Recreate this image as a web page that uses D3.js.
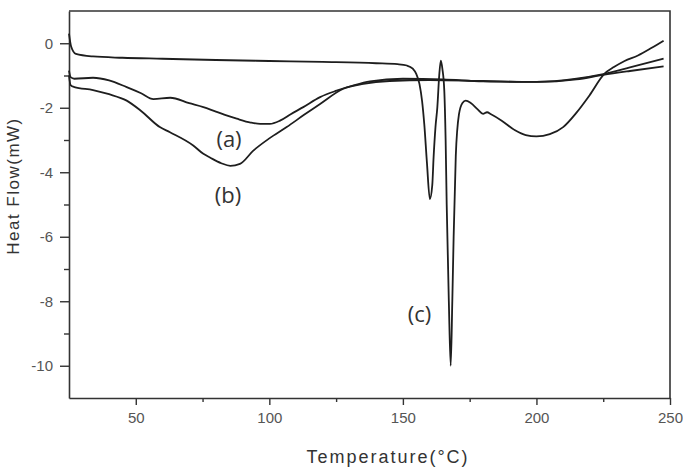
<!doctype html>
<html lang="en">
<head>
<meta charset="utf-8">
<title>DSC curves</title>
<script src="https://cdn.jsdelivr.net/npm/d3@7"></script>
<style>
	body { margin: 0; background: #fff; }
	svg { display: block; }
</style>
</head>
<body>
<svg id="chart" width="683" height="468"></svg>
<script>
// ---- data (temperature in C, heat flow in mW) ----
var tempA = [25, 25.6, 27, 34, 40, 46.6, 52, 56.6, 62.9, 70, 75.3, 80, 87.8, 93, 96.6, 100.2, 104, 108, 112.7, 119, 125.2, 131.3, 137.7, 150, 165, 180, 200, 215, 225, 235, 247.6];
var flowA = [-0.85, -1.05, -1.1, -1.07, -1.15, -1.36, -1.55, -1.73, -1.69, -1.86, -1.98, -2.12, -2.34, -2.46, -2.5, -2.5, -2.4, -2.2, -1.98, -1.67, -1.47, -1.31, -1.18, -1.1, -1.12, -1.18, -1.2, -1.12, -0.98, -0.86, -0.72];

var tempB = [25, 25.6, 27, 34, 40, 46.6, 52, 59, 62.8, 71.5, 75.3, 77.9, 82, 85.4, 89, 94, 100, 106.5, 113, 119, 127.7, 135.2, 145, 160, 180, 200, 215, 225, 235, 247.6];
var flowB = [-1.0, -1.3, -1.36, -1.45, -1.58, -1.78, -2.1, -2.6, -2.76, -3.17, -3.43, -3.55, -3.72, -3.8, -3.74, -3.33, -2.95, -2.6, -2.22, -1.88, -1.41, -1.26, -1.17, -1.14, -1.17, -1.2, -1.1, -0.96, -0.75, -0.48];

var tempC = [25, 25.8, 27.6, 34, 45, 60, 80, 100, 120, 140, 148, 151.5, 153.7, 155, 156.2, 157.2, 158, 159, 160.1, 161, 161.5, 162.2, 162.9, 163.6, 164.2, 164.8, 165.5, 166, 166.4, 167.2, 167.9, 168.5, 169, 169.8, 171, 172.3, 173.5, 175.4, 178, 180, 181.5, 183, 187, 192, 196, 200, 205, 210, 215, 220, 225.4, 229, 233, 238, 243, 247.6];
var flowC = [0.3, -0.1, -0.33, -0.41, -0.45, -0.48, -0.52, -0.55, -0.58, -0.62, -0.65, -0.69, -0.79, -0.95, -1.26, -1.8, -2.5, -3.7, -4.83, -4.4, -3.53, -2.6, -1.98, -1.0, -0.54, -0.8, -1.47, -3.0, -5.0, -8.0, -10.0, -8.0, -6.0, -3.5, -2.2, -1.85, -1.78, -1.85, -2.05, -2.19, -2.14, -2.2, -2.4, -2.7, -2.85, -2.89, -2.82, -2.6, -2.15, -1.6, -0.95, -0.74, -0.55, -0.38, -0.15, 0.08];

var xTicks = [50, 100, 150, 200, 250];
var xMinor = [75, 125, 175, 225];
var yTicks = [0, -2, -4, -6, -8, -10];
var yMinor = [-1, -3, -5, -7, -9];

var curveLabels = ["(a)", "(b)", "(c)"];
var labelTemp = [84.9, 84.5, 156.2];
var labelFlow = [-3.23, -4.94, -8.63];

// ---- layout ----
var svg = d3.select("#chart");
var plotLeft = 69, plotRight = 670, plotTop = 11, plotBottom = 398;

var x = d3.scaleLinear().domain([25, 250]).range([plotLeft, plotRight]);
var y = d3.scaleLinear().domain([-11, 1]).range([plotBottom, plotTop]);

var axisColor = "#333";
var tickFont = "'Liberation Sans', Arial, sans-serif";

// frame (top and right sides, no ticks)
svg.append("path")
	.attr("d", "M" + plotLeft + "," + plotTop + "H" + plotRight + "V" + plotBottom)
	.attr("fill", "none")
	.attr("stroke", axisColor)
	.attr("stroke-width", 1.6);

// bottom axis
var gx = svg.append("g").attr("transform", "translate(0," + plotBottom + ")");
gx.call(d3.axisBottom(x).tickValues(xTicks).tickSize(7).tickSizeOuter(0)
	.tickFormat(function(d) { return String(d); }));
gx.append("g").call(d3.axisBottom(x).tickValues(xMinor).tickSize(4).tickFormat(""))
	.select(".domain").remove();

// left axis
var gy = svg.append("g").attr("transform", "translate(" + plotLeft + ",0)");
gy.call(d3.axisLeft(y).tickValues(yTicks).tickSize(9).tickPadding(7).tickSizeOuter(0)
	.tickFormat(function(d) { return String(d); }));
gy.append("g").call(d3.axisLeft(y).tickValues(yMinor).tickSize(5).tickFormat(""))
	.select(".domain").remove();

svg.selectAll(".domain").attr("stroke", axisColor).attr("stroke-width", 1.6);
svg.selectAll(".tick line").attr("stroke", axisColor).attr("stroke-width", 1.4);
svg.selectAll(".tick text")
	.attr("fill", "#555")
	.style("font-family", tickFont)
	.style("font-size", "15px");
gx.selectAll(".tick text").attr("y", 25).attr("dy", 0);

// axis titles
svg.append("text")
	.attr("x", 388).attr("y", 463)
	.attr("text-anchor", "middle")
	.attr("fill", "#333")
	.style("font-family", tickFont)
	.style("font-size", "18px")
	.style("letter-spacing", "2px")
	.text("Temperature(°C)");

svg.append("text")
	.attr("transform", "translate(19,186) rotate(-90)")
	.attr("text-anchor", "middle")
	.attr("fill", "#333")
	.style("font-family", tickFont)
	.style("font-size", "17px")
	.style("letter-spacing", "1.5px")
	.text("Heat Flow(mW)");

// curves
var line = d3.line()
	.x(function(d) { return x(d[0]); })
	.y(function(d) { return y(d[1]); })
	.curve(d3.curveMonotoneX);

var series = [d3.zip(tempA, flowA), d3.zip(tempB, flowB), d3.zip(tempC, flowC)];

svg.selectAll("path.curve")
	.data(series)
	.enter()
	.append("path")
	.attr("class", "curve")
	.attr("fill", "none")
	.attr("stroke", "#1e1e1e")
	.attr("stroke-width", 1.8)
	.attr("stroke-linejoin", "round")
	.attr("d", line);

// curve labels
svg.selectAll("text.lab")
	.data(curveLabels)
	.enter()
	.append("text")
	.attr("class", "lab")
	.attr("x", function(d, i) { return x(labelTemp[i]); })
	.attr("y", function(d, i) { return y(labelFlow[i]); })
	.attr("text-anchor", "middle")
	.attr("fill", "#333")
	.style("font-family", "'Open Sans', 'Noto Sans', sans-serif")
	.style("font-size", "22px")
	.text(function(d) { return d; });
</script>
</body>
</html>
